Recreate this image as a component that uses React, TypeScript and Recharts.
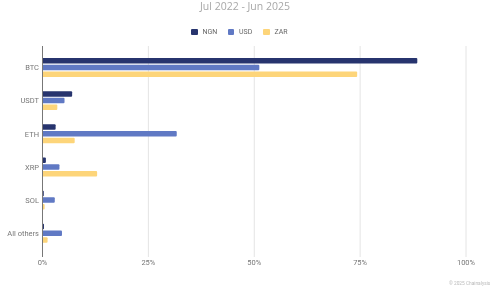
import React from "react";
import { BarChart, Bar, XAxis, YAxis, CartesianGrid } from "recharts";

const categories = ["BTC", "USDT", "ETH", "XRP", "SOL", "All others"];
const ngn = [88.5, 7.0, 3.1, 0.8, 0.3, 0.35];
const usd = [51.2, 5.2, 31.7, 4.0, 2.9, 4.6];
const zar = [74.3, 3.5, 7.6, 12.9, 0.5, 1.2];
const xTicks = [0, 25, 50, 75, 100];

const seriesNames = ["NGN", "USD", "ZAR"];
const colors = ["#27346e", "#6079c4", "#fdd57a"];

const data = categories.map((name, i) => ({
  name,
  NGN: ngn[i],
  USD: usd[i],
  ZAR: zar[i],
}));

const font = "Roboto, sans-serif";

const YTick = (props: any) => {
  const { x, y, payload } = props;
  return (
    <text x={x} y={y} dy="0.35em" textAnchor="end" fontSize={7.5} fill="#777" fontFamily={font}>
      {payload.value}
    </text>
  );
};

export default function App() {
  return (
    <div style={{ position: "fixed", left: 0, top: 0, width: 500, height: 296, background: "#fff", fontFamily: font }}>
      <div style={{ position: "absolute", top: -1, left: 0, width: 490, textAlign: "center", fontSize: 10.5, color: "#a8a8a8", fontFamily: "'Open Sans', sans-serif" }}>
        Jul 2022 - Jun 2025
      </div>
      <div style={{ position: "absolute", top: 28, left: 191, display: "flex", alignItems: "center", fontSize: 7, color: "#666" }}>
        {seriesNames.map((s, i) => (
          <div key={s} style={{ display: "flex", alignItems: "center", marginRight: 9 }}>
            <div style={{ width: 6.5, height: 6.5, background: colors[i], borderRadius: 1, marginRight: 5 }} />
            <span style={{ width: s === "NGN" ? 16 : 15, display: "inline-block" }}>{s}</span>
          </div>
        ))}
      </div>
      <BarChart
        width={500}
        height={296}
        data={data}
        layout="vertical"
        margin={{ top: 46, right: 34, bottom: 19, left: 0.5 }}
        barSize={5.5}
        barGap={1.2}
      >
        <CartesianGrid horizontal={false} stroke="#e4e4e4" />
        <XAxis
          type="number"
          domain={[0, 100]}
          ticks={xTicks}
          tickFormatter={(v: number) => `${v}%`}
          axisLine={false}
          tickLine={false}
          tickSize={0}
          tickMargin={3}
          height={20}
          tick={{ fontSize: 7.5, fill: "#777", fontFamily: font }}
        />
        <YAxis
          type="category"
          dataKey="name"
          width={42}
          axisLine={{ stroke: "#777" }}
          tickLine={false}
          tickSize={0}
          tickMargin={3.5}
          padding={{ top: 5, bottom: 7 }}
          tick={<YTick />}
        />
        {seriesNames.map((s, i) => (
          <Bar key={s} dataKey={s} fill={colors[i]} isAnimationActive={false} radius={[0, 1, 1, 0]} />
        ))}
      </BarChart>
      <div style={{ position: "absolute", top: 281, left: 449, fontSize: 4.8, color: "#bbb" }}>
        © 2025 Chainalysis
      </div>
    </div>
  );
}
